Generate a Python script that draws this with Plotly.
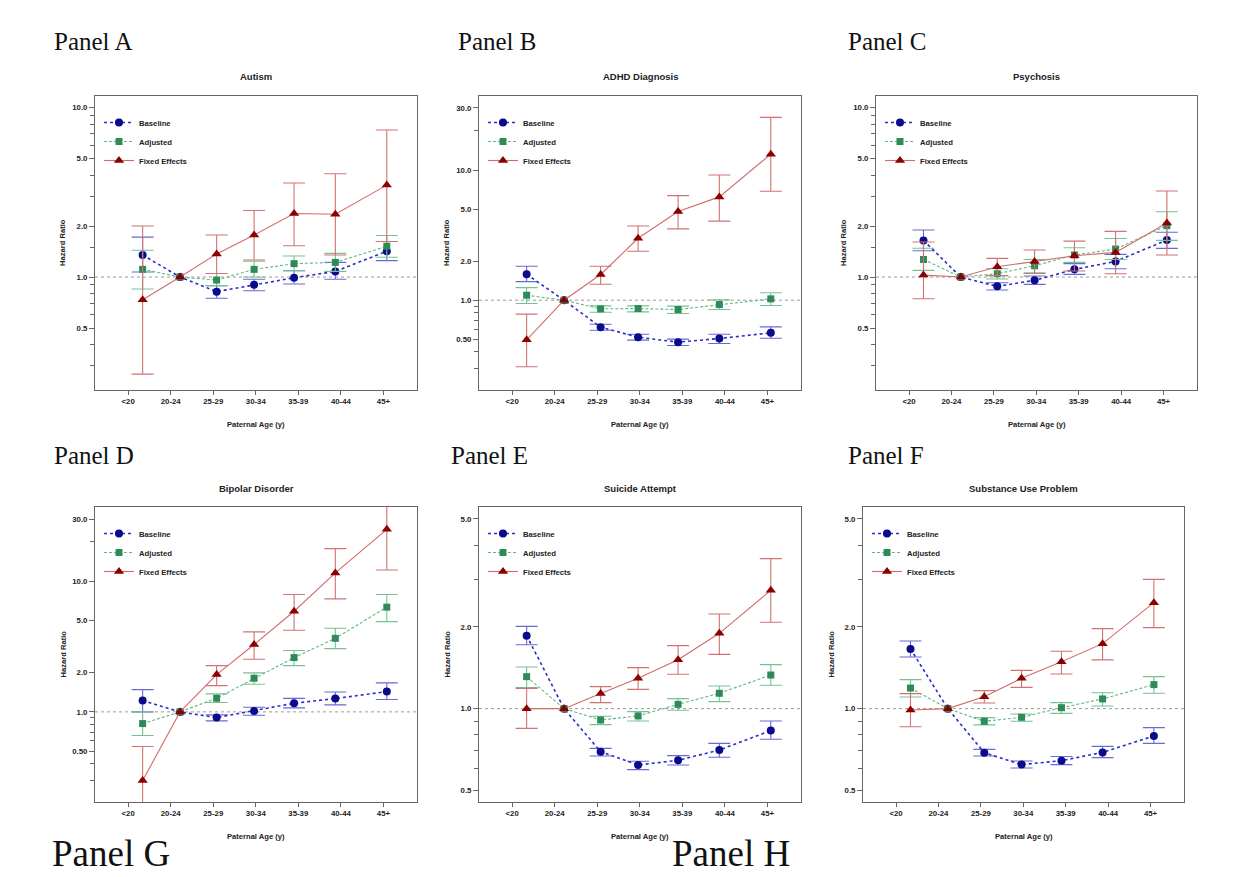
import plotly.graph_objects as go

W, H = 1234, 877

age_groups = ["<20", "20-24", "25-29", "30-34", "35-39", "40-44", "45+"]
point_pos = [1.34, 2.22, 3.08, 3.96, 4.90, 5.87, 7.08]
ref_idx = 1  # 20-24 is the reference group

# Panel A - Autism
autism_base = [1.35, 1.0, 0.82, 0.90, 0.99, 1.08, 1.42]
autism_base_lo = [1.07, None, 0.75, 0.83, 0.91, 0.97, 1.25]
autism_base_hi = [1.72, None, 0.89, 0.97, 1.09, 1.22, 1.62]
autism_adj = [1.11, 1.0, 0.96, 1.11, 1.20, 1.22, 1.52]
autism_adj_lo = [0.85, None, 0.89, 1.00, 1.09, 1.08, 1.31]
autism_adj_hi = [1.44, None, 1.05, 1.24, 1.33, 1.38, 1.76]
autism_fe = [0.735, 1.0, 1.37, 1.77, 2.37, 2.35, 3.49]
autism_fe_lo = [0.267, None, 1.05, 1.26, 1.53, 1.35, 1.62]
autism_fe_hi = [2.0, None, 1.77, 2.47, 3.59, 4.07, 7.38]

# Panel B - ADHD
adhd_base = [1.58, 1.0, 0.62, 0.52, 0.476, 0.508, 0.561]
adhd_base_lo = [1.39, None, 0.588, 0.493, 0.449, 0.465, 0.51]
adhd_base_hi = [1.825, None, 0.654, 0.548, 0.502, 0.548, 0.624]
adhd_adj = [1.092, 1.0, 0.858, 0.863, 0.848, 0.926, 1.024]
adhd_adj_lo = [0.943, None, 0.809, 0.814, 0.79, 0.848, 0.91]
adhd_adj_hi = [1.25, None, 0.905, 0.905, 0.9, 1.006, 1.14]
adhd_fe = [0.496, 1.0, 1.575, 2.99, 4.8, 6.22, 13.25]
adhd_fe_lo = [0.308, None, 1.327, 2.38, 3.53, 4.05, 6.88]
adhd_fe_hi = [0.781, None, 1.825, 3.72, 6.36, 9.16, 25.4]

# Panel C - Psychosis
psy_base = [1.646, 1.0, 0.881, 0.956, 1.11, 1.237, 1.653]
psy_base_lo = [1.43, None, 0.838, 0.905, 1.037, 1.12, 1.477]
psy_base_hi = [1.895, None, 0.926, 1.014, 1.2, 1.36, 1.84]
psy_adj = [1.27, 1.0, 1.046, 1.166, 1.349, 1.463, 2.01]
psy_adj_lo = [1.095, None, 0.973, 1.06, 1.22, 1.27, 1.646]
psy_adj_hi = [1.48, None, 1.12, 1.27, 1.49, 1.69, 2.43]
psy_fe = [1.027, 1.0, 1.15, 1.237, 1.336, 1.398, 2.084]
psy_fe_lo = [0.745, None, 1.02, 1.05, 1.085, 1.046, 1.349]
psy_fe_hi = [1.61, None, 1.289, 1.443, 1.63, 1.86, 3.22]

# Panel D - Bipolar
bip_base = [1.22, 1.0, 0.905, 1.018, 1.165, 1.265, 1.43]
bip_base_lo = [1.0, None, 0.853, 0.943, 1.073, 1.131, 1.243]
bip_base_hi = [1.48, None, 0.948, 1.086, 1.27, 1.42, 1.667]
bip_adj = [0.814, 1.0, 1.272, 1.81, 2.605, 3.66, 6.34]
bip_adj_lo = [0.659, None, 1.179, 1.63, 2.26, 3.05, 4.91]
bip_adj_hi = [1.0, None, 1.373, 1.99, 2.95, 4.37, 7.92]
bip_fe = [0.298, 1.0, 1.93, 3.28, 5.9, 11.6, 25.0]
bip_fe_lo = [0.15, None, 1.59, 2.53, 4.22, 7.33, 12.2]
bip_fe_hi = [0.543, None, 2.26, 4.1, 7.92, 17.8, 45.0]

# Panel E - Suicide attempt
sui_base = [1.858, 1.0, 0.694, 0.62, 0.645, 0.704, 0.83]
sui_base_lo = [1.72, None, 0.669, 0.596, 0.62, 0.662, 0.771]
sui_base_hi = [2.01, None, 0.714, 0.64, 0.671, 0.745, 0.901]
sui_adj = [1.312, 1.0, 0.908, 0.94, 1.037, 1.139, 1.33]
sui_adj_lo = [1.195, None, 0.873, 0.901, 0.986, 1.061, 1.219]
sui_adj_hi = [1.424, None, 0.937, 0.975, 1.089, 1.212, 1.453]
sui_fe = [1.0, 1.0, 1.136, 1.293, 1.515, 1.895, 2.731]
sui_fe_lo = [0.846, None, 1.052, 1.178, 1.338, 1.585, 2.08]
sui_fe_hi = [1.188, None, 1.205, 1.416, 1.707, 2.233, 3.57]

# Panel F - Substance use
sub_base = [1.66, 1.0, 0.688, 0.622, 0.643, 0.69, 0.793]
sub_base_lo = [1.55, None, 0.669, 0.604, 0.622, 0.66, 0.745]
sub_base_hi = [1.775, None, 0.708, 0.641, 0.666, 0.726, 0.851]
sub_adj = [1.191, 1.0, 0.898, 0.929, 1.008, 1.086, 1.226]
sub_adj_lo = [1.104, None, 0.871, 0.898, 0.961, 1.023, 1.139]
sub_adj_hi = [1.279, None, 0.927, 0.956, 1.052, 1.145, 1.312]
sub_fe = [0.989, 1.0, 1.107, 1.293, 1.49, 1.736, 2.457]
sub_fe_lo = [0.858, None, 1.049, 1.198, 1.342, 1.512, 1.988]
sub_fe_hi = [1.136, None, 1.165, 1.384, 1.627, 1.971, 2.994]

# y axis setups
ax_small = dict(range=[-0.667, 1.069], vals=[0.5, 1, 2, 5, 10],
                text=["0.5", "1.0", "2.0", "5.0", "10.0"],
                minor=[0.3, 0.4, 0.6, 0.7, 0.8, 0.9, 1.5, 3, 4, 6, 7, 8, 9])
ax_big = dict(range=[-0.69, 1.569], vals=[0.5, 1, 2, 5, 10, 30],
              text=["0.50", "1.0", "2.0", "5.0", "10.0", "30.0"],
              minor=[0.3, 0.4, 0.6, 0.7, 0.8, 0.9, 20])
ax_narrow = dict(range=[-0.344, 0.743], vals=[0.5, 1, 2, 5],
                 text=["0.5", "1.0", "2.0", "5.0"],
                 minor=[0.6, 0.7, 0.8, 0.9, 3, 4])

panels = [
    ("Autism", (95, 417), (96, 390), ax_small,
     [(autism_base, autism_base_lo, autism_base_hi),
      (autism_adj, autism_adj_lo, autism_adj_hi),
      (autism_fe, autism_fe_lo, autism_fe_hi)]),
    ("ADHD Diagnosis", (479, 801), (96, 390), ax_big,
     [(adhd_base, adhd_base_lo, adhd_base_hi),
      (adhd_adj, adhd_adj_lo, adhd_adj_hi),
      (adhd_fe, adhd_fe_lo, adhd_fe_hi)]),
    ("Psychosis", (876, 1197), (96, 390), ax_small,
     [(psy_base, psy_base_lo, psy_base_hi),
      (psy_adj, psy_adj_lo, psy_adj_hi),
      (psy_fe, psy_fe_lo, psy_fe_hi)]),
    ("Bipolar Disorder", (95, 417), (507, 802), ax_big,
     [(bip_base, bip_base_lo, bip_base_hi),
      (bip_adj, bip_adj_lo, bip_adj_hi),
      (bip_fe, bip_fe_lo, bip_fe_hi)]),
    ("Suicide Attempt", (479, 801), (507, 802), ax_narrow,
     [(sui_base, sui_base_lo, sui_base_hi),
      (sui_adj, sui_adj_lo, sui_adj_hi),
      (sui_fe, sui_fe_lo, sui_fe_hi)]),
    ("Substance Use Problem", (863, 1184), (507, 802), ax_narrow,
     [(sub_base, sub_base_lo, sub_base_hi),
      (sub_adj, sub_adj_lo, sub_adj_hi),
      (sub_fe, sub_fe_lo, sub_fe_hi)]),
]

series_names = ["Baseline", "Adjusted", "Fixed Effects"]
series_style = [
    dict(symbol="circle", size=8, mcolor="#0a0a8c", lcolor="#2b2bc8", dash="dot", lw=1.6, ecolor="#6a6ad6"),
    dict(symbol="square", size=7, mcolor="#2e8b57", lcolor="#5fb883", dash="3px,2px", lw=1.1, ecolor="#74c296"),
    dict(symbol="triangle-up", size=9, mcolor="#8b0000", lcolor="#d46a6a", dash="solid", lw=1.1, ecolor="#d27272"),
]

FONT = "Liberation Sans, Arial, sans-serif"
TXT = "#222222"
BOX = "#666666"

fig = go.Figure()
layout = dict(width=W, height=H, margin=dict(l=0, r=0, t=0, b=0),
              paper_bgcolor="white", plot_bgcolor="white", showlegend=True)
annotations = []
shapes = []


def px_x(v):
    return v / W


def px_y(v):
    return 1 - v / H


for i, (title, (x0, x1), (y0, y1), yax, series) in enumerate(panels, start=1):
    xa = "x" if i == 1 else f"x{i}"
    ya = "y" if i == 1 else f"y{i}"
    leg = "legend" if i == 1 else f"legend{i}"

    for name, (hr, lo, hi), st in zip(series_names, series, series_style):
        # error bars (reference group has none)
        ex = [p for k, p in enumerate(point_pos) if k != ref_idx]
        ey = [v for k, v in enumerate(hr) if k != ref_idx]
        eplus = [h - v for k, (v, h) in enumerate(zip(hr, hi)) if k != ref_idx]
        eminus = [v - l for k, (v, l) in enumerate(zip(hr, lo)) if k != ref_idx]
        fig.add_trace(go.Scatter(
            x=ex, y=ey, mode="markers", xaxis=xa, yaxis=ya,
            marker=dict(size=2, opacity=0), showlegend=False, hoverinfo="skip",
            error_y=dict(type="data", array=eplus, arrayminus=eminus, symmetric=False,
                         color=st["ecolor"], thickness=1.1, width=11),
        ))
        fig.add_trace(go.Scatter(
            x=point_pos, y=hr, mode="lines+markers", name=name, xaxis=xa, yaxis=ya,
            legend=leg,
            line=dict(color=st["lcolor"], dash=st["dash"], width=st["lw"]),
            marker=dict(symbol=st["symbol"], size=st["size"], color=st["mcolor"],
                        line=dict(width=0)),
        ))

    layout[f"xaxis{'' if i == 1 else i}"] = dict(
        domain=[px_x(x0), px_x(x1)], anchor=ya, range=[0.22, 7.79],
        tickmode="array", tickvals=list(range(1, 8)), ticktext=age_groups,
        ticks="outside", ticklen=4, tickcolor=BOX, showgrid=False, zeroline=False,
        showline=True, linecolor=BOX, linewidth=1, mirror=True,
        tickfont=dict(family=FONT, size=7.8, color=TXT, weight="bold"),
    )
    layout[f"yaxis{'' if i == 1 else i}"] = dict(
        domain=[px_y(y1), px_y(y0)], anchor=xa, type="log", range=yax["range"],
        tickmode="array", tickvals=yax["vals"], ticktext=yax["text"],
        ticks="outside", ticklen=5, tickcolor=BOX, showgrid=False, zeroline=False,
        showline=True, linecolor=BOX, linewidth=1, mirror=True,
        tickfont=dict(family=FONT, size=7.8, color=TXT, weight="bold"),
        minor=dict(tickmode="array", tickvals=yax["minor"], ticks="outside",
                   ticklen=4, tickcolor=BOX, showgrid=False),
    )
    layout[leg] = dict(
        x=px_x(x0 + 4), y=px_y(y0 + 12), xanchor="left", yanchor="top",
        bgcolor="rgba(0,0,0,0)", borderwidth=0, itemwidth=30,
        font=dict(family=FONT, size=7.7, color=TXT, weight="bold"),
    )

    shapes.append(dict(type="line", xref=f"{xa} domain", x0=0, x1=1, yref=ya, y0=1, y1=1,
                       line=dict(color="#9a9a9a", width=1, dash="dot"), layer="below"))

    cx = px_x((x0 + x1) / 2)
    annotations.append(dict(text=title, x=cx, y=px_y(y0 - 19), xref="paper", yref="paper",
                            showarrow=False, xanchor="center", yanchor="middle",
                            font=dict(family=FONT, size=9.5, color=TXT, weight="bold")))
    annotations.append(dict(text="Paternal Age (y)", x=cx, y=px_y(y1 + 34), xref="paper",
                            yref="paper", showarrow=False, xanchor="center", yanchor="middle",
                            font=dict(family=FONT, size=7.6, color=TXT, weight="bold")))
    annotations.append(dict(text="Hazard Ratio", x=px_x(x0 - 32), y=px_y((y0 + y1) / 2),
                            xref="paper", yref="paper", showarrow=False, textangle=-90,
                            xanchor="center", yanchor="middle",
                            font=dict(family=FONT, size=7.6, color=TXT, weight="bold")))

# panel labels
panel_labels = [("Panel A", 52, 42, 25), ("Panel B", 456, 42, 25), ("Panel C", 846, 42, 25),
                ("Panel D", 52, 455, 25), ("Panel E", 449, 455, 25), ("Panel F", 846, 455, 25),
                ("Panel G", 50, 853, 37), ("Panel H", 670, 853, 37)]
for txt, lx, ly, fs in panel_labels:
    annotations.append(dict(text=txt, x=px_x(lx), y=px_y(ly), xref="paper", yref="paper",
                            showarrow=False, xanchor="left", yanchor="middle",
                            font=dict(family="Liberation Serif, Times New Roman, serif",
                                      size=fs, color="#111111")))

layout["annotations"] = annotations
layout["shapes"] = shapes
fig.update_layout(**layout)

fig.write_html("out.html", config={"displayModeBar": False},
               post_script="document.body.style.margin='0px';")
